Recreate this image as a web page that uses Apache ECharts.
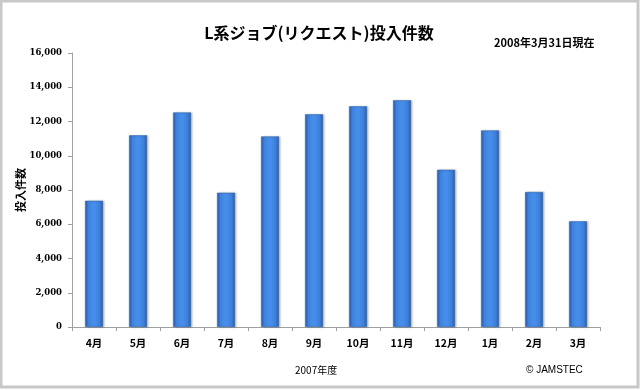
<!DOCTYPE html>
<html>
<head>
<meta charset="utf-8">
<script src="https://cdn.jsdelivr.net/npm/echarts@6/dist/echarts.min.js"></script>
<style>
html,body{margin:0;padding:0;background:#fff;}
#chart{width:640px;height:390px;}
</style>
</head>
<body>
<div id="chart"></div>
<script>
const categories = ['4月','5月','6月','7月','8月','9月','10月','11月','12月','1月','2月','3月'];
const jobCounts = [7370, 11190, 12530, 7840, 11130, 12420, 12890, 13240, 9180, 11480, 7880, 6170];
const yTicks = {min: 0, max: 16000, interval: 2000};
const titleText = 'L系ジョブ(リクエスト)投入件数';
const dateNote = '2008年3月31日現在';
const yName = '投入件数';
const xName = '2007年度';
const credit = '© JAMSTEC';

const jp = '"Noto Sans CJK JP", "Liberation Sans", sans-serif';
const chart = echarts.init(document.getElementById('chart'), null, {renderer: 'canvas'});
chart.setOption({
  animation: false,
  backgroundColor: '#ffffff',
  title: {
    text: titleText,
    left: 314, top: 20, textAlign: 'center',
    textStyle: {fontFamily: jp, fontSize: 16, fontWeight: 'bold', color: '#000'}
  },
  graphic: [
    {type: 'rect', shape: {x: 1, y: 1, width: 637, height: 386}, style: {fill: 'none', stroke: '#c8c8c8', lineWidth: 3}, silent: true},
    {type: 'text', left: 494, top: 37, style: {text: dateNote, font: 'bold 11px ' + jp, fill: '#000'}},
    {type: 'text', left: 295, top: 365, style: {text: xName, font: '10px ' + jp, fill: '#000'}},
    {type: 'text', left: 526, top: 365, style: {text: credit, font: '10px "Liberation Sans", sans-serif', fill: '#000'}}
  ],
  grid: {left: 72, right: 40, top: 53, bottom: 63, containLabel: false},
  xAxis: {
    type: 'category',
    data: categories,
    axisLine: {lineStyle: {color: '#a0a0a0', width: 1}},
    axisTick: {show: true, inside: false, length: 4, alignWithLabel: false, lineStyle: {color: '#a0a0a0'}},
    axisLabel: {margin: 11, fontFamily: jp, fontSize: 10.5, fontWeight: 'bold', color: '#000'}
  },
  yAxis: {
    type: 'value',
    min: yTicks.min, max: yTicks.max, interval: yTicks.interval,
    name: yName,
    nameLocation: 'middle',
    nameRotate: 90,
    nameGap: 46,
    nameMoveOverlap: false,
    nameTextStyle: {fontFamily: jp, fontSize: 11, fontWeight: 'bold', color: '#000'},
    axisLine: {show: true, lineStyle: {color: '#a0a0a0', width: 1}},
    axisTick: {show: true, inside: false, length: 4, lineStyle: {color: '#a0a0a0'}},
    splitLine: {show: false},
    axisLabel: {
      margin: 10, fontFamily: '"DejaVu Serif", serif', fontSize: 8.5, fontWeight: 'bold', color: '#000',
      formatter: v => v.toLocaleString('en-US')
    }
  },
  series: [{
    type: 'bar',
    data: jobCounts,
    barWidth: 18,
    itemStyle: {
      color: new echarts.graphic.LinearGradient(0, 0, 1, 0, [
        {offset: 0, color: '#2e62ae'},
        {offset: 0.18, color: '#3f82de'},
        {offset: 0.5, color: '#4890ee'},
        {offset: 0.82, color: '#3d7fd8'},
        {offset: 1, color: '#2a5ba4'}
      ]),
      borderColor: '#2f64b0',
      borderWidth: 0.5,
      shadowColor: 'rgba(0,0,0,0.25)',
      shadowBlur: 2,
      shadowOffsetX: 1.5,
      shadowOffsetY: 0
    }
  }]
});
</script>
</body>
</html>
